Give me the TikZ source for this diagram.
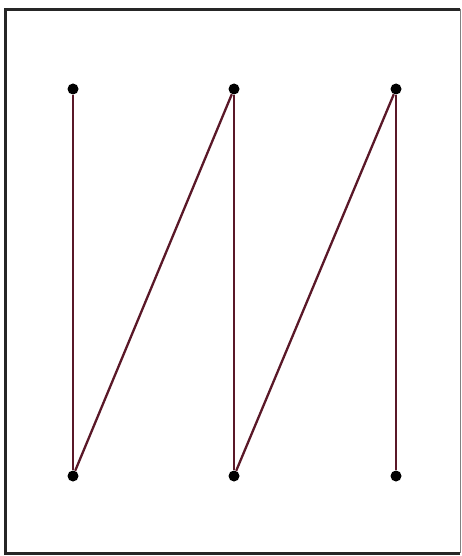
\documentclass[tikz,border=0pt]{standalone}
\definecolor{edgec}{HTML}{5A1828}
\tikzset{
  dot/.style={circle,fill=black,inner sep=0pt,minimum size=11pt},
  edge/.style={draw=edgec,line width=2.3pt},
  frame/.style={draw=black!85,line width=3pt}
}
\begin{document}
\begin{tikzpicture}[x=1pt,y=-1pt]
\useasboundingbox (0,0) rectangle (461,556);
\fill[white] (0,0) rectangle (461,556);
\coordinate (tl) at (5.5,9.5);
\coordinate (tr) at (460,9.5);
\coordinate (br) at (460,553);
\coordinate (bl) at (5.5,553);
\draw[frame] (tr) -- (tl) -- (bl) -- (br);
\draw[draw=black!50,line width=1pt] (tr) -- (br);
\node[dot] (a1) at (73,89) {};
\node[dot] (a2) at (234,89) {};
\node[dot] (a3) at (396,89) {};
\node[dot] (b1) at (73,476) {};
\node[dot] (b2) at (234,476) {};
\node[dot] (b3) at (396,476) {};
\draw[edge] (a1) -- (b1);
\draw[edge] (b1) -- (a2);
\draw[edge] (a2) -- (b2);
\draw[edge] (b2) -- (a3);
\draw[edge] (a3) -- (b3);
\end{tikzpicture}
\end{document}
